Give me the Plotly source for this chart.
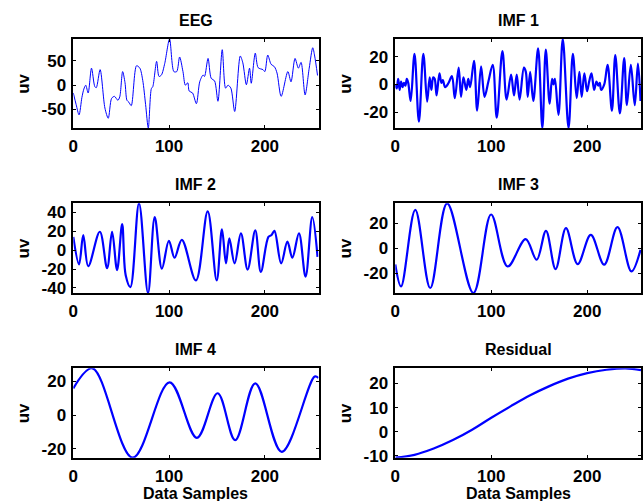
import plotly.graph_objects as go

# ---------------- data ----------------
eeg_x = [0, 3, 6, 9, 11, 13, 15.5, 19, 22.5, 24, 28, 33, 36.5, 40, 43, 46.5, 48.5,
         51.5, 54, 56, 58, 60.5, 66, 69.5, 72.5, 75.5, 78.3, 81.5, 83, 87, 89.5, 92,
         95.5, 100.5, 105, 108, 111, 114.5, 117, 119.5, 121, 124.5, 128.5, 132, 135.5,
         137, 140.7, 144, 147.5, 151, 155.5, 159, 161.5, 164.5, 168.5, 174.3, 177,
         180.7, 184, 185.8, 190, 193, 198, 200, 203, 206.5, 210, 212.7, 217, 224,
         227.3, 231.5, 235, 237.8, 242, 246.3, 250, 252, 255]
eeg_y = [-16, -40, -61, -25, -8, 0, -16, 35, -3, -5, 32, -47, -68, -27, -23, -31, -24,
         28, 5, -31, -35, -42, 40, 35, 10, -40, -88, -7, -3, 49, 18, 21,
         45, 95, 28, 28, 58, 28, 0, 5, -12, -16, -38, 7, 21,
         18, 55, 14, 9, -33, 73, -6, 0, -6, -54, 60, 46,
         1, 35, 4, 66, 36, 32, 28, 62, 43, 38, 25, -23, 28,
         7, 55, 35, 47, -20, 35, 77, 60, 20]

imf1_x = [0, 1.5, 3, 4.5, 6, 7.5, 9, 10.5, 12, 13.5, 16, 20, 24.6, 29.2, 33.2, 35.8,
          37.6, 39.5, 41, 43, 46, 48, 49.5, 52, 55.5, 59, 62, 66, 68.5, 71, 74, 76, 78,
          82, 85.3, 89.4, 93, 97, 101.5, 105.7, 111.6, 116, 120.6, 123.7, 126.5, 129.5,
          134, 136, 138, 140.5, 143.8, 148.8, 153.2, 156.8, 160.8, 163.3, 164.8, 166.3,
          170, 174.5, 180.5, 185, 189, 191.8, 194.2, 197, 199.8, 202, 204.4, 207.2,
          209.6, 211.5, 213, 214.5, 217.7, 221.2, 225.7, 229.2, 234, 238.5, 241.3,
          245.4, 249.5, 252.8, 255.5]
imf1_y = [0, -3, 4, -4, 2, -2, 1, -1, 4, 1, -12, 22, -27, 22, -12.5, 5,
          -4, 5, 4, -8, 8, 1, 3, -2, 1, 6, -10, 12, -9, 5, -4, 4, -2,
          17, -19, 13, -9, 2, 14, -24, 24, -11, 7, -8, 7, -11,
          12, 9, -9, 9, -12, 26, -31.5, 25, -14, 4, 0, 4,
          -22, 32.7, -31.5, 22, -10, 9, -9, 8, -5, 2, 8, -4,
          2, -1, 1, -4, 0, 14, -19, 21, -21, 19, -15,
          14, -15, 15, -12]

imf2_x = [0, 6, 10.4, 15.6, 27.7, 35.3, 40.5, 45.7, 51, 54.7, 59.6, 68.6, 78, 85,
          92.5, 99.8, 105.7, 113.3, 128, 140.3, 149.7, 155.2, 159.4, 162.9, 168.4,
          175, 182, 190, 195.8, 203.7, 207, 210, 217, 223.5, 228.7, 235.6, 242.5,
          249.5, 255]
imf2_y = [14, -15, 16, -17, 19.5, -19, 19.5, -21, 27.6, -26.5, -39, 49.6, -45.3, 35,
          -19.5, 10, -8, 11, -32, 41, -32, 22, -14, 12.4, -14,
          17.7, -20.5, 21, -23, 14, 16, 20.5, -14, 9, -8, 17.7, -28,
          35, -7]

imf3_x = [0, 6, 20.8, 36.4, 54, 81.4, 99.8, 117, 135.8, 147.3, 157, 167, 177.8,
          190, 203.7, 217.6, 231.5, 246, 255.5]
imf3_y = [-13, -30.7, 30.7, -32, 36, -36, 27, -14.7, 7.2, -9.3, 13.9, -16.8, 16,
          -12.8, 10.7, -13.3, 16.8, -18.7, -1.3]

imf4_x = [0, 20, 62, 100.5, 129, 150.7, 169, 190, 217.6, 252, 256]
imf4_y = [15.8, 27.7, -25.3, 19.4, -13.5, 12.9, -14.9, 18.8, -21.8, 22.8, 22]

res_x = [0, 20, 40, 60, 80, 100, 120, 140, 160, 180, 200, 220, 240, 256]
res_y = [-10.8, -9.6, -7.0, -3.5, 0.8, 5.8, 10.5, 15, 18.8, 22, 24.3, 25.7, 26.3, 25.5]

titles = ["EEG", "IMF 1", "IMF 2", "IMF 3", "IMF 4", "Residual"]
x_ticks = [0, 100, 200]
y_ticks = [[-50, 0, 50], [-20, 0, 20], [-40, -20, 0, 20, 40], [-20, 0, 20],
           [-20, 0, 20], [-10, 0, 10, 20]]

series = [(eeg_x, eeg_y), (imf1_x, imf1_y), (imf2_x, imf2_y),
          (imf3_x, imf3_y), (imf4_x, imf4_y), (res_x, res_y)]

# ---------------- layout ----------------
W, H = 644, 501
col_px = [(73.3, 318.5), (395.3, 641.0)]
row_px = [(39.0, 128.0), (203.3, 293.0), (368.3, 457.7)]

FONT = "Liberation Sans, Arial, Helvetica, sans-serif"
fig = go.Figure()
annotations = []
layout_axes = {}

for i, ((xs, ys), title) in enumerate(zip(series, titles)):
    r, c = divmod(i, 2)
    n = i + 1
    xa = "x" if n == 1 else f"x{n}"
    ya = "y" if n == 1 else f"y{n}"
    fig.add_trace(go.Scatter(
        x=xs, y=ys, mode="lines", xaxis=xa, yaxis=ya,
        line=dict(color="#0000ff", width=1 if i == 0 else 2.2,
                  shape="spline", smoothing=0.8 if i == 0 else 1.0),
        showlegend=False, hoverinfo="skip", cliponaxis=True))
    x0, x1 = col_px[c]
    y0, y1 = row_px[r]
    xd = [x0 / W, x1 / W]
    yd = [1 - y1 / H, 1 - y0 / H]
    axcommon = dict(showline=True, linecolor="black", linewidth=1.5, mirror="ticks",
                    ticks="inside", ticklen=3, tickcolor="black", tickwidth=1,
                    showgrid=False, zeroline=False, automargin=False,
                    tickfont=dict(family=FONT, size=17, color="black", weight="bold"))
    layout_axes["xaxis" if n == 1 else f"xaxis{n}"] = dict(
        domain=xd, anchor=ya, range=[0, 256], tickvals=x_ticks,
        ticktext=[str(v) for v in x_ticks], ticklabelstandoff=2, **axcommon)
    layout_axes["yaxis" if n == 1 else f"yaxis{n}"] = dict(
        domain=yd, anchor=xa, range=[min(ys), max(ys)], tickvals=y_ticks[i],
        ticktext=[str(v) for v in y_ticks[i]], ticklabelstandoff=2, **axcommon)
    # title
    annotations.append(dict(text=f"<b>{title}</b>", x=(x0 + x1) / 2 / W,
                            y=1 - (y0 - 18.5) / H, xref="paper", yref="paper",
                            showarrow=False, xanchor="center", yanchor="middle",
                            font=dict(family=FONT, size=16, color="black")))
    # y label
    annotations.append(dict(text="<b>uv</b>", x=(x0 - 50) / W,
                            y=1 - ((y0 + y1) / 2) / H, xref="paper", yref="paper",
                            showarrow=False, xanchor="center", yanchor="middle",
                            textangle=-90,
                            font=dict(family=FONT, size=17, color="black")))
    if r == 2:
        annotations.append(dict(text="<b>Data Samples</b>", x=(x0 + x1) / 2 / W,
                                y=1 - 493.5 / H, xref="paper", yref="paper",
                                showarrow=False, xanchor="center", yanchor="middle",
                                font=dict(family=FONT, size=16, color="black")))

fig.update_layout(template="none", width=W, height=H,
                  margin=dict(l=0, r=0, t=0, b=0, pad=0),
                  paper_bgcolor="white", plot_bgcolor="white",
                  annotations=annotations, **layout_axes)

fig.write_html("out.html", config={"displayModeBar": False},
               post_script="document.body.style.margin='0px';"
                           "document.body.style.overflow='hidden';")
